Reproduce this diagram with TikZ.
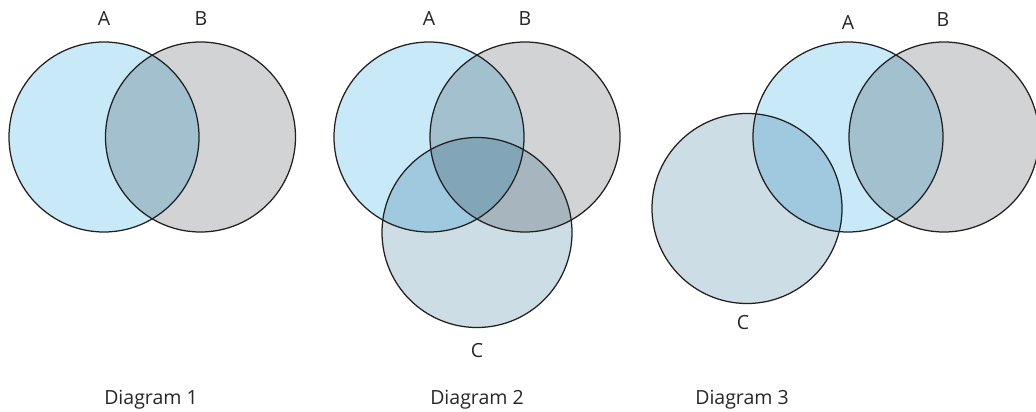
\documentclass[tikz,border=0pt]{standalone}
\usepackage{fontspec}
\setmainfont{Open Sans}
\definecolor{azulA}{HTML}{C7E9F8}
\definecolor{grisB}{HTML}{D1D3D4}
\definecolor{grisC}{HTML}{CCDDE5}
\definecolor{borde}{HTML}{231F20}
\tikzset{
  conjunto/.style={circle, minimum size=190pt, inner sep=0pt, draw=borde, line width=1.25pt},
  etiqueta/.style={font=\fontsize{19.5}{22}\selectfont, inner sep=0pt, text=black!85}
}
\begin{document}
\begin{tikzpicture}[x=1pt, y=-1pt]
    \useasboundingbox (0,0) rectangle (1036,412);

    % Rellenos de los conjuntos (se multiplican en las zonas comunes)
    \begin{scope}[blend group=multiply]
        \fill[azulA] (104,137) circle (95);
        \fill[grisB] (200.5,137) circle (95);
        \fill[azulA] (429,137) circle (95);
        \fill[grisB] (525,137) circle (95);
        \fill[grisC] (477,232.5) circle (95);
        \fill[azulA] (848,137) circle (95);
        \fill[grisB] (944,137) circle (95);
        \fill[grisC] (747,208.5) circle (95);
    \end{scope}

    % Diagrama 1
    \node[conjunto] (A1) at (104,137) {};
    \node[conjunto] (B1) at (200.5,137) {};
    \node[etiqueta] (lA1) at (104,19) {A};
    \node[etiqueta] (lB1) at (201,19) {B};

    % Diagrama 2
    \node[conjunto] (A2) at (429,137) {};
    \node[conjunto] (B2) at (525,137) {};
    \node[conjunto] (C2) at (477,232.5) {};
    \node[etiqueta] (lA2) at (429,19) {A};
    \node[etiqueta] (lB2) at (525,19) {B};
    \node[etiqueta] (lC2) at (477,351) {C};

    % Diagrama 3
    \node[conjunto] (A3) at (848,137) {};
    \node[conjunto] (B3) at (944,137) {};
    \node[conjunto] (C3) at (747,208.5) {};
    \node[etiqueta] (lA3) at (848,23) {A};
    \node[etiqueta] (lB3) at (943,19.5) {B};
    \node[etiqueta] (lC3) at (743,323) {C};

    % Titulos
    \node[etiqueta, anchor=base] (t1) at (151,404) {Diagram 1};
    \node[etiqueta, anchor=base] (t2) at (477,404) {Diagram 2};
    \node[etiqueta, anchor=base] (t3) at (742,404) {Diagram 3};

\end{tikzpicture}
\end{document}
